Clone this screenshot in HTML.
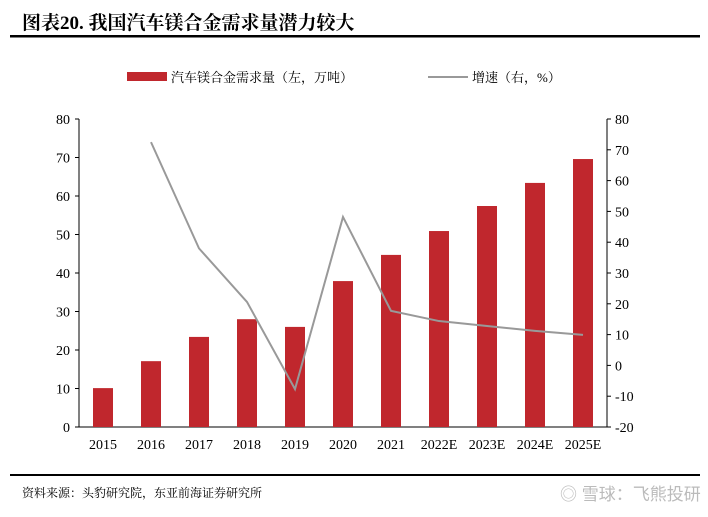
<!DOCTYPE html>
<html><head><meta charset="utf-8"><style>
body{margin:0;background:#fff;}
svg{display:block;font-family:"Liberation Serif","Noto Serif CJK SC",serif;}
</style></head><body>
<svg width="708" height="517" viewBox="0 0 708 517">
<text x="22" y="29" font-size="19" font-weight="bold" font-family="Liberation Serif,Noto Serif CJK SC,serif">图表20. 我国汽车镁合金需求量潜力较大</text>
<rect x="10" y="35" width="690" height="2.5" fill="#000"/>
<g>
<rect x="127" y="72" width="40" height="9" fill="#c0272d"/>
<text x="171" y="82" font-size="13">汽车镁合金需求量（左，万吨）</text>
<line x1="428" y1="77" x2="468" y2="77" stroke="#999" stroke-width="2"/>
<text x="472" y="82" font-size="13">增速（右，%）</text>
</g>
<g id="plot"></g>
<rect x="10" y="474" width="690" height="2" fill="#000"/>
<text x="22" y="497" font-size="12">资料来源：头豹研究院，东亚前海证券研究所</text>
<text x="560" y="500" font-size="17" fill="#bbb" font-family="Liberation Sans,Noto Sans CJK SC,sans-serif">◎ 雪球：飞熊投研</text>
</svg>
<script>
const categories=["2015","2016","2017","2018","2019","2020","2021","2022E","2023E","2024E","2025E"];
const demand=[10.1,17.1,23.4,28,26,37.9,44.7,50.9,57.4,63.4,69.6];
const growth=[null,72.5,38,20.6,-7.7,48.2,17.7,14.4,12.8,11.2,9.9];
const leftTicks=[0,10,20,30,40,50,60,70,80];
const rightTicks=[-20,-10,0,10,20,30,40,50,60,70,80];
const NS="http://www.w3.org/2000/svg";
const g=document.getElementById('plot');
const X0=79,X1=607,YT=119,YB=427;
const step=(X1-X0)/categories.length;
const xc=i=>X0+step*(i+0.5);
const yL=v=>YB-(v-0)/(80-0)*(YB-YT);
const yR=v=>YB-(v+20)/(100)*(YB-YT);
function mk(t,a,txt){const e=document.createElementNS(NS,t);for(const k in a)e.setAttribute(k,a[k]);if(txt!=null)e.textContent=txt;g.appendChild(e);return e;}
let e;
e=mk('line',{x1:X0,y1:YT,x2:X0,y2:YB,stroke:'#000'});


e=mk('line',{x1:X1,y1:YT,x2:X1,y2:YB,stroke:'#000'});


e=mk('line',{x1:X0,y1:YB,x2:X1,y2:YB,stroke:'#000'});


leftTicks.forEach(v=>{
 e=mk('line',{x1:X0-4,y1:yL(v),x2:X0,y2:yL(v),stroke:'#000'});
 
 
 e=mk('text',{x:X0-9,y:yL(v)+5,'font-size':14,'text-anchor':'end'},v);
 
 
});
rightTicks.forEach(v=>{
 e=mk('line',{x1:X1,y1:yR(v),x2:X1+4,y2:yR(v),stroke:'#000'});
 
 
 e=mk('text',{x:X1+8,y:yR(v)+5,'font-size':14,'text-anchor':'start'},v);
 
 
});
const bw=20;
categories.forEach((c,i)=>{
 e=mk('rect',{x:xc(i)-bw/2,y:yL(demand[i]),width:bw,height:YB-yL(demand[i]),fill:'#c0272d'});
 
 
 e=mk('text',{x:xc(i),y:YB+22,'font-size':14,'text-anchor':'middle'},c);
 
 
});
const pts=[];growth.forEach((v,i)=>{if(v!=null)pts.push(xc(i)+','+yR(v));});
e=mk('polyline',{points:pts.join(' '),fill:'none',stroke:'#999','stroke-width':2});


</script>
</body></html>
